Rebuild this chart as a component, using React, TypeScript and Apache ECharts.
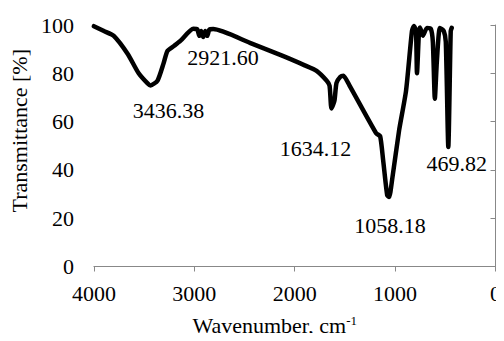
import React, { useEffect, useRef } from "react";
import * as echarts from "echarts";

const wavenumbers = [
  4000, 3900, 3802, 3663, 3554, 3465, 3436, 3366, 3307, 3267, 3200, 3139, 3010,
  2970, 2950, 2931, 2911, 2891, 2871, 2851, 2812, 2446, 2119, 1900, 1782, 1683,
  1653, 1634, 1604, 1584, 1545, 1515, 1455, 1188, 1149, 1119, 1079, 1059, 1030,
  960, 891, 832, 812, 792, 782, 762, 752, 723, 683, 644, 624, 604, 584, 554,
  515, 495, 470, 446, 436,
];
const transmittance = [
  99.5, 97.5, 95.5, 88, 80, 75.8, 75, 77, 84, 89.3, 91.4, 93.4, 98.4,
  98.2, 95.5, 97.5, 95, 97.5, 95.5, 98, 98.3, 92.6, 87.2, 83.3, 81, 77,
  74.9, 65.4, 68.7, 76, 78.6, 79, 75, 55.1, 54, 44, 29.6, 28.8, 35.8,
  56.4, 72.8, 97.5, 99.6, 97.5, 80, 97.5, 99, 95.5, 98.8, 98.4, 93, 69.5, 85, 98.8,
  97.5, 93, 49.5, 97.5, 98.8,
];

const peakLabels = ["3436.38", "2921.60", "1634.12", "1058.18", "469.82"];
const peakLabelX = [3257, 2713, 1792, 1050, 386];
const peakLabelY = [64.6, 86.4, 49, 16.9, 42.8];

const xTicks = { min: 0, max: 4000, interval: 1000 };
const yTicks = { min: 0, max: 100, interval: 20 };

const FONT = "Times New Roman";

export default function App() {
  const ref = useRef<HTMLDivElement>(null);
  useEffect(() => {
    if (!ref.current) return;
    const chart = echarts.init(ref.current, undefined, { renderer: "svg" });
    const data = wavenumbers.map((w, i) => [w, transmittance[i]]);
    const txt = { color: "#000", fontFamily: FONT, fontSize: 22 };
    chart.setOption({
      animation: false,
      backgroundColor: "#ffffff",
      textStyle: { fontFamily: FONT },
      grid: { left: 93, right: 7, top: 25, bottom: 74 },
      xAxis: {
        type: "value",
        inverse: true,
        min: xTicks.min,
        max: xTicks.max,
        interval: xTicks.interval,
        name: "Wavenumber, cm{sup|-1}",
        nameLocation: "middle",
        nameGap: 47,
        nameTextStyle: {
          ...txt,
          padding: [0, 40, 0, 0],
          rich: { sup: { fontSize: 13, verticalAlign: "top", padding: [0, 0, 10, 0], fontFamily: FONT, color: "#000" } },
        },
        axisLine: { show: true, lineStyle: { color: "#888", width: 1 } },
        axisTick: { show: true, length: 5, lineStyle: { color: "#888" } },
        axisLabel: { ...txt, margin: 16, formatter: (v: number) => String(v) },
        splitLine: { show: false },
      },
      yAxis: {
        type: "value",
        min: yTicks.min,
        max: yTicks.max,
        interval: yTicks.interval,
        name: "Transmittance [%]",
        nameLocation: "middle",
        nameGap: 59,
        nameTextStyle: { ...txt, padding: [0, 0, 0, 30] },
        axisLine: { show: true, lineStyle: { color: "#888", width: 1 } },
        axisTick: { show: true, length: 5, lineStyle: { color: "#888" } },
        axisLabel: { ...txt, margin: 20, formatter: (v: number) => String(v) },
        splitLine: { show: false },
      },
      series: [
        {
          type: "line",
          data,
          smooth: 0.2,
          symbol: "none",
          lineStyle: { color: "#000", width: 4.5, join: "round", cap: "round" },
          markPoint: {
            symbol: "circle",
            symbolSize: 0,
            data: peakLabels.map((t, i) => ({
              coord: [peakLabelX[i], peakLabelY[i]],
              value: t,
              label: { show: true, formatter: t, position: "inside", ...txt },
            })),
          },
        },
      ],
    });
    return () => chart.dispose();
  }, []);
  return <div ref={ref} style={{ width: 504, height: 341, margin: -8 }} />;
}
